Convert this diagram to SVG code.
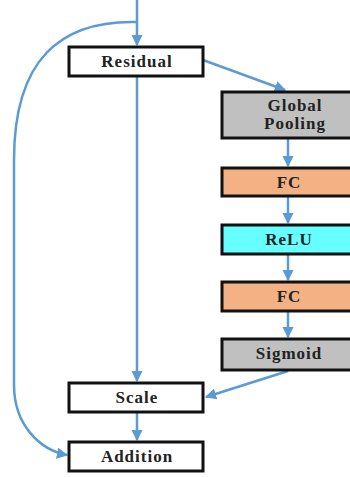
<svg xmlns="http://www.w3.org/2000/svg" width="350" height="477" viewBox="0 0 350 477">
<style>
.box{stroke:#111;stroke-width:3}
.lbl{font-family:"Liberation Serif",serif;font-weight:bold;font-size:17px;letter-spacing:1px;fill:#222;text-anchor:middle}
.c{fill:none;stroke:#5b9bd5;stroke-width:2.5}
</style>
<defs>
<marker id="ah" viewBox="0 0 10 10" refX="9" refY="5" markerWidth="4.5" markerHeight="4.5" orient="auto">
<path d="M0,0 L10,5 L0,10 z" fill="#5b9bd5"/>
</marker>
</defs>
<rect width="350" height="477" fill="#fff"/>
<g id="connectors">
<path class="c" d="M137,0 V45" marker-end="url(#ah)"/>
<path class="c" d="M137,22 C60,20 14,60 14,160 V385 C14,425 40,450 67,455" marker-end="url(#ah)"/>
<path class="c" d="M203,60 L285,90" marker-end="url(#ah)"/>
<path class="c" d="M137,77 V381" marker-end="url(#ah)"/>
<path class="c" d="M288,139 V166" marker-end="url(#ah)"/>
<path class="c" d="M288,197 V223" marker-end="url(#ah)"/>
<path class="c" d="M288,255 V280" marker-end="url(#ah)"/>
<path class="c" d="M288,312 V337" marker-end="url(#ah)"/>
<path class="c" d="M288,371 L206,397" marker-end="url(#ah)"/>
<path class="c" d="M137,413 V440" marker-end="url(#ah)"/>
</g>
<g id="residual"><rect class="box" x="69" y="47" width="134" height="29" fill="#fff"/><text class="lbl" x="137" y="67">Residual</text></g>
<g id="global-pooling"><rect class="box" x="222" y="92" width="130" height="46" fill="#c0c0c0"/><text class="lbl" x="295" y="111">Global</text><text class="lbl" x="295" y="129">Pooling</text></g>
<g id="fc1"><rect class="box" x="222" y="168" width="130" height="28" fill="#f4b183"/><text class="lbl" x="289" y="188">FC</text></g>
<g id="relu"><rect class="box" x="222" y="225" width="130" height="29" fill="#66ffff"/><text class="lbl" x="289" y="245">ReLU</text></g>
<g id="fc2"><rect class="box" x="222" y="282" width="130" height="29" fill="#f4b183"/><text class="lbl" x="289" y="302">FC</text></g>
<g id="sigmoid"><rect class="box" x="222" y="339" width="130" height="31" fill="#c0c0c0"/><text class="lbl" x="289" y="359">Sigmoid</text></g>
<g id="scale"><rect class="box" x="69" y="383" width="134" height="29" fill="#fff"/><text class="lbl" x="137" y="403">Scale</text></g>
<g id="addition"><rect class="box" x="69" y="442" width="134" height="29" fill="#fff"/><text class="lbl" x="137" y="462">Addition</text></g>
</svg>
